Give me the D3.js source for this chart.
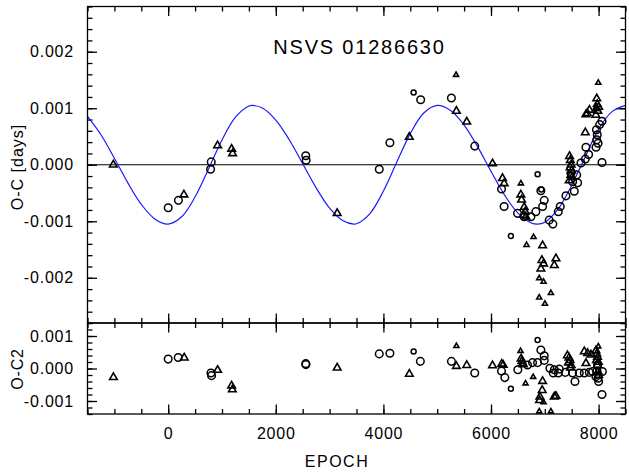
<!DOCTYPE html>
<html>
<head>
<meta charset="utf-8">
<script src="https://cdn.jsdelivr.net/npm/d3@7"></script>
<style>
  body { margin: 0; background: white; }
  text { font-family: "Liberation Sans", Arial, sans-serif; fill: #000; }
</style>
</head>
<body>
<div id="chart"></div>
<script>
const TITLE = "NSVS 01286630";
const X_TICKS = [0, 2000, 4000, 6000, 8000];
const OC_TICKS = [-0.002, -0.001, 0, 0.001, 0.002];
const OC2_TICKS = [-0.001, 0, 0.001];

// fitted curve
const curveEpoch = [-1500, -1250, -1000, -750, -500, -250, 0, 250, 500, 750, 1000, 1250, 1500, 1570, 1750,
  2000, 2250, 2500, 2750, 3000, 3250, 3450, 3500, 3750, 4000, 4250, 4500, 4750, 5000, 5250, 5500, 5750,
  6000, 6250, 6500, 6750, 6866, 7000, 7250, 7500, 7750, 8000, 8250, 8500];
const curveOC = [0.000854, 0.000530, 0.000114, -0.000321, -0.000701, -0.000958, -0.00105, -0.000921, -0.000567,
  -0.000074, 0.000438, 0.000841, 0.00104, 0.00105, 0.001003, 0.000791, 0.000443, 0.000018, -0.000409, -0.000766,
  -0.000991, -0.00105, -0.001045, -0.000864, -0.000466, 0.000049, 0.000551, 0.000915, 0.00105, 0.00096, 0.000702,
  0.000321, -0.000116, -0.000533, -0.000856, -0.00103, -0.00105, -0.001016, -0.00078, -0.000362, 0.000135,
  0.00063, 0.00094, 0.00105];

// O-C points  [epoch, days]
const ocCircles = [[0, -0.00076], [190, -0.00063], [788, -0.00008], [800, 0.00005], [2557, 0.00016], [2564, 0.00008],
  [3923, -0.00008], [4121, 0.00039], [4693, 0.00115], [5264, 0.00118], [5698, 0.00033], [6196, -0.00043],
  [6244, -0.00074], [6493, -0.00086], [6617, -0.00092], [6741, -0.00092], [6834, -0.00083], [6927, -0.00046],
  [6959, -0.00074], [6989, -0.00063], [7082, -0.00098], [7150, -0.00105], [7250, -0.00083], [7287, -0.00074],
  [7393, -0.00055], [7486, -0.00015], [7517, -0.0003], [7548, -0.00047], [7592, -0.00018], [7610, -0.00032],
  [7672, 0.00003], [7753, 0.0001], [7815, 0.00018], [7765, 0.00031], [7952, 0.00031], [7965, 0.00044],
  [7975, 0.00053], [7960, 0.00062], [8020, 0.00071], [7990, 0.00038], [8063, 0.00077], [8063, 0.00004]];
const ocCirclesSmall = [[4562, 0.00128], [6369, -0.00126], [6866, -0.00017], [6935, -0.00044]];
const ocTriangles = [[-1020, 0.0], [292, -0.00053], [918, 0.00034], [1179, 0.00028], [1197, 0.0002], [3141, -0.00086],
  [4482, 0.00049], [5357, 0.00095], [5549, 0.00076], [6028, 0.00002], [6214, -0.00024], [6244, -0.00033],
  [6555, -0.00053], [6568, -0.00062], [6617, -0.00075], [6635, -0.00083], [6605, -0.00089], [6648, -0.00092],
  [6959, -0.00143], [6946, -0.00169], [6977, -0.00175], [7207, -0.00166], [7176, -0.00178], [6927, -0.00184],
  [7460, 0.00015], [7475, 0.00008], [7490, 0.0], [7470, -0.00005], [7500, -0.0001], [7485, -0.00018],
  [7510, -0.00022], [7455, -0.00028], [7753, 0.00057], [7765, 0.00089], [7790, 0.00091], [7830, 0.00097],
  [7965, 0.00117], [7975, 0.00107], [7960, 0.001], [7985, 0.00095], [8000, 0.00102], [7950, 0.00088]];
const ocTrianglesSmall = [[5350, 0.00159], [6555, -0.00033], [6791, -0.00128], [6661, -0.00142], [6896, -0.00201],
  [6977, -0.00207], [7113, -0.00227], [6896, -0.00235], [7002, -0.00246], [7994, 0.00145]];

// O-C2 residuals  [epoch, days]
const resCircles = [[0, 0.00029], [186, 0.00034], [795, -0.00014], [806, -0.00022], [2557, 0.00015], [2560, 0.00012],
  [3923, 0.00045], [4121, 0.00047], [4687, 0.00022], [5264, 0.00022], [5698, -0.00014], [6195, -0.00008],
  [6257, -0.00028], [6499, -0.00004], [6679, 0.00011], [6772, 0.00018], [6866, 0.00018], [6927, 0.00057],
  [6989, 0.00039], [6990, 0.00025], [7095, 0.00001], [7157, -0.00014], [7250, -0.00014], [7176, -0.00004],
  [7270, -0.00002], [7381, -0.00012], [7561, -0.0004], [7517, -0.00014], [7641, -0.00014], [7734, -0.00014],
  [7827, -0.00012], [7890, -0.00009], [7950, -0.00025], [7970, -0.00008], [7980, 0.0001], [7990, -0.0003],
  [8000, -0.0004], [8070, -0.00009], [8063, -0.0008]];
const resCirclesSmall = [[4562, 0.00052], [6369, -0.00062], [6866, 0.00088]];
const resTriangles = [[-1018, -0.00027], [298, 0.00033], [918, -0.00005], [1179, -0.00053], [1192, -0.00065],
  [3141, 0.00002], [4482, -0.00017], [5357, 0.00007], [5549, 0.0001], [6028, 0.00009], [6200, 0.00014],
  [6227, 0.00011], [6560, 0.0003], [6575, 0.00022], [6590, 0.00015], [6600, 0.00012], [6959, -0.00039],
  [6952, -0.00067], [6909, -0.00087], [6903, -0.00098], [7176, -0.00087], [7207, -0.00085], [7420, 0.0004],
  [7450, 0.00033], [7470, 0.00025], [7440, 0.00018], [7490, 0.0001], [7480, 0.00002], [7734, 0.00052],
  [7796, 0.00047], [7858, 0.00042], [7765, 0.00016], [7950, 0.00055], [7965, 0.00045], [7980, 0.00035],
  [7960, 0.00025], [7995, 0.0002], [7975, 0.0001], [7990, -0.0001], [8000, -0.0002]];
const resTrianglesSmall = [[5357, 0.00069], [6549, 0.00054], [6642, -0.00046], [6784, -0.00026], [6977, -0.00104],
  [6896, -0.00132], [7113, -0.00132], [7994, 0.00068]];

var width = 629, height = 473;
var left = 87.5, right = 625.5;
var top1 = 6.5, bottom1 = 323, top2 = 323, bottom2 = 414;

var svg = d3.select("#chart")
  .append("svg")
  .attr("width", width)
  .attr("height", height);

var x = d3.scaleLinear().domain([-1500, 8500]).range([left, right]);
var y1 = d3.scaleLinear().domain([-0.0028, 0.0028]).range([bottom1, top1]);
var y2 = d3.scaleLinear().domain([-0.0014, 0.0014]).range([bottom2, top2]);

var xMinor = d3.range(-1500, 8501, 500);
var y1Minor = d3.range(-14, 15).map(function(i) { return i * 0.0002; });
var y2Minor = d3.range(-7, 8).map(function(i) { return i * 0.0002; });

function drawTicks(yScale, yTicks, yMinor, yTop, yBottom)
{
  var sets = [
    [d3.axisBottom(x), "translate(0," + yBottom + ")", X_TICKS, xMinor],
    [d3.axisTop(x), "translate(0," + yTop + ")", X_TICKS, xMinor],
    [d3.axisLeft(yScale), "translate(" + left + ",0)", yTicks, yMinor],
    [d3.axisRight(yScale), "translate(" + right + ",0)", yTicks, yMinor]
  ];
  sets.forEach(function(s) {
    var minorAxis = s[0].tickValues(s[3]).tickSize(-5).tickFormat("");
    svg.append("g").attr("transform", s[1]).call(minorAxis);
    var majorAxis = s[0].tickValues(s[2]).tickSize(-9.5).tickFormat("");
    svg.append("g").attr("transform", s[1]).call(majorAxis);
  });
}

drawTicks(y1, OC_TICKS, y1Minor, top1, bottom1);
drawTicks(y2, OC2_TICKS, y2Minor, top2, bottom2);

svg.selectAll(".domain").remove();
svg.selectAll(".tick line").attr("stroke", "#000").attr("stroke-width", 1.3);

// tick labels
svg.append("g")
  .attr("transform", "translate(0," + bottom2 + ")")
  .call(d3.axisBottom(x).tickValues(X_TICKS).tickSize(0).tickPadding(14).tickFormat(function(d) { return d; }));
svg.append("g")
  .attr("transform", "translate(" + left + ",0)")
  .call(d3.axisLeft(y1).tickValues(OC_TICKS).tickSize(0).tickPadding(13.5).tickFormat(function(d) { return d.toFixed(3); }));
svg.append("g")
  .attr("transform", "translate(" + left + ",0)")
  .call(d3.axisLeft(y2).tickValues(OC2_TICKS).tickSize(0).tickPadding(13.5).tickFormat(function(d) { return d.toFixed(3); }));

svg.selectAll(".domain").remove();
svg.selectAll(".tick text")
  .attr("font-family", "Liberation Sans, Arial, sans-serif")
  .attr("font-size", 16)
  .style("letter-spacing", "0.8px")
  .attr("fill", "#000");

// zero line
svg.append("line")
  .attr("x1", left).attr("x2", right)
  .attr("y1", y1(0)).attr("y2", y1(0))
  .attr("stroke", "#000")
  .attr("stroke-width", 1.2);

// fitted curve
svg.append("clipPath").attr("id", "clip-top")
  .append("rect")
  .attr("x", left).attr("y", top1)
  .attr("width", right - left).attr("height", bottom1 - top1);

var line = d3.line()
  .x(function(d, i) { return x(curveEpoch[i]); })
  .y(function(d) { return y1(d); })
  .curve(d3.curveCatmullRom);

svg.append("path")
  .datum(curveOC)
  .attr("clip-path", "url(#clip-top)")
  .attr("d", line)
  .attr("fill", "none")
  .attr("stroke", "#1a1aff")
  .attr("stroke-width", 1.2);

function drawCircles(data, yScale, r)
{
  svg.append("g").selectAll("circle")
    .data(data)
    .enter()
    .append("circle")
    .attr("cx", function(d) { return x(d[0]); })
    .attr("cy", function(d) { return yScale(d[1]); })
    .attr("r", r)
    .attr("fill", "none")
    .attr("stroke", "#000")
    .attr("stroke-width", 1.5);
}

function drawTriangles(data, yScale, size)
{
  var tri = d3.symbol().type(d3.symbolTriangle).size(size);
  svg.append("g").selectAll("path")
    .data(data)
    .enter()
    .append("path")
    .attr("d", tri)
    .attr("transform", function(d) { return "translate(" + x(d[0]) + "," + yScale(d[1]) + ")"; })
    .attr("fill", "none")
    .attr("stroke", "#000")
    .attr("stroke-width", 1.6);
}

drawCircles(ocCircles, y1, 3.8);
drawCircles(ocCirclesSmall, y1, 2.5);
drawTriangles(ocTriangles, y1, 25);
drawTriangles(ocTrianglesSmall, y1, 11);

drawCircles(resCircles, y2, 3.8);
drawCircles(resCirclesSmall, y2, 2.5);
drawTriangles(resTriangles, y2, 25);
drawTriangles(resTrianglesSmall, y2, 11);

// frames
svg.append("rect")
  .attr("x", left).attr("y", top1)
  .attr("width", right - left).attr("height", bottom1 - top1)
  .attr("fill", "none").attr("stroke", "#000").attr("stroke-width", 1.3);
svg.append("rect")
  .attr("x", left).attr("y", top2)
  .attr("width", right - left).attr("height", bottom2 - top2)
  .attr("fill", "none").attr("stroke", "#000").attr("stroke-width", 1.3);

// titles
svg.append("text")
  .text(TITLE)
  .attr("x", 359.5)
  .attr("y", 54)
  .attr("font-size", 20)
  .style("letter-spacing", "1.8px")
  .style("text-anchor", "middle");

svg.append("text")
  .text("EPOCH")
  .attr("x", 337)
  .attr("y", 466.5)
  .attr("font-size", 16)
  .style("letter-spacing", "1.5px")
  .style("text-anchor", "middle");

svg.append("text")
  .text("O-C [days]")
  .attr("transform", "translate(22.5,167) rotate(-90)")
  .attr("font-size", 16)
  .style("letter-spacing", "1px")
  .style("text-anchor", "middle");

svg.append("text")
  .text("O-C2")
  .attr("transform", "translate(22.5,369) rotate(-90)")
  .attr("font-size", 16)
  .style("letter-spacing", "0.8px")
  .style("text-anchor", "middle");
</script>
</body>
</html>
